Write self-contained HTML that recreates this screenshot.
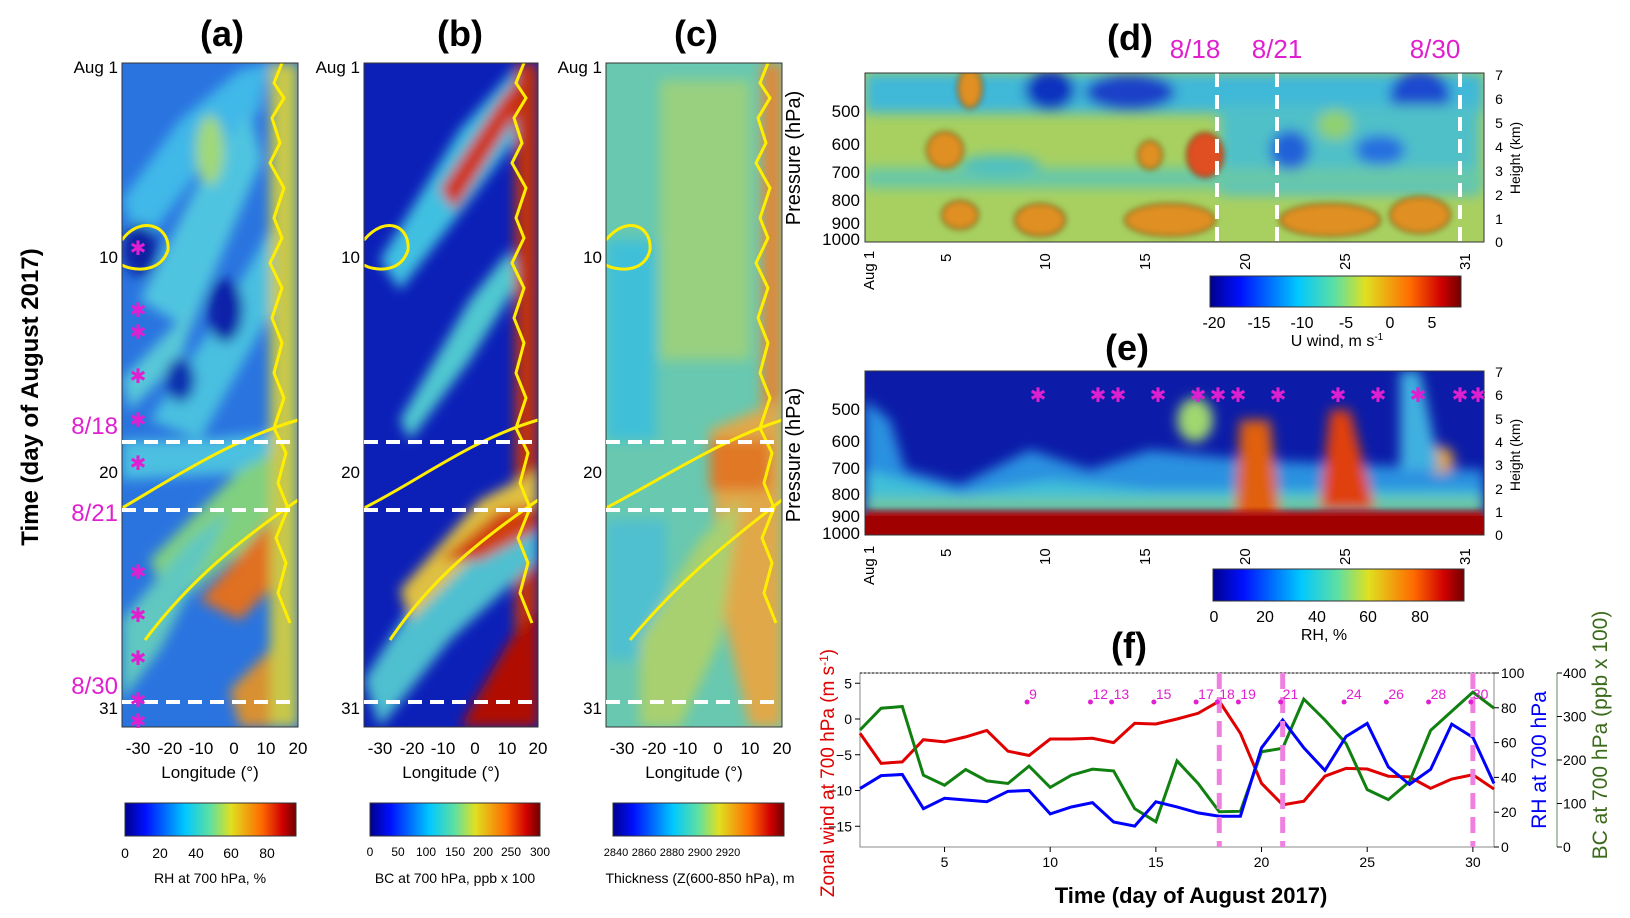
<!DOCTYPE html>
<html><head><meta charset="utf-8">
<style>
html,body{margin:0;padding:0;background:#fff;}
svg{display:block;font-family:"Liberation Sans",sans-serif;}
</style></head>
<body>
<svg id="fig" width="1630" height="918" viewBox="0 0 1630 918" xmlns="http://www.w3.org/2000/svg">
<defs>
<linearGradient id="jet" x1="0" x2="1" y1="0" y2="0">
<stop offset="0" stop-color="#00008f"/><stop offset="0.12" stop-color="#0010ff"/><stop offset="0.35" stop-color="#00c8ff"/><stop offset="0.5" stop-color="#60e0a0"/><stop offset="0.62" stop-color="#e0e020"/><stop offset="0.8" stop-color="#ff6a00"/><stop offset="0.92" stop-color="#d00000"/><stop offset="1" stop-color="#700000"/>
</linearGradient>
<filter id="bl" x="-20%" y="-20%" width="140%" height="140%"><feGaussianBlur stdDeviation="6"/></filter>
<filter id="bl2" x="-20%" y="-20%" width="140%" height="140%"><feGaussianBlur stdDeviation="3"/></filter>
<clipPath id="ca"><rect x="122" y="63" width="176" height="664"/></clipPath>
<clipPath id="cb"><rect x="364" y="63" width="174" height="664"/></clipPath>
<clipPath id="cc"><rect x="606" y="63" width="176" height="664"/></clipPath>
<clipPath id="cd"><rect x="865" y="73" width="619" height="169"/></clipPath>
<clipPath id="ce"><rect x="865" y="371" width="619" height="164"/></clipPath>
</defs>

<g font-weight="bold" font-size="36" text-anchor="middle">
<text x="222" y="46">(a)</text>
<text x="460" y="46">(b)</text>
<text x="696" y="46">(c)</text>
<text x="1130" y="50">(d)</text>
<text x="1127" y="360">(e)</text>
<text x="1129" y="658">(f)</text>
</g>

<text transform="translate(38,397) rotate(-90)" text-anchor="middle" font-size="24" font-weight="bold">Time (day of August 2017)</text>

<!-- Panel a -->
<g clip-path="url(#ca)">
<rect x="122" y="63" width="176" height="664" fill="#2a74e0"/>
<g filter="url(#bl)">
<polygon points="122,200 180,120 240,70 270,63 260,110 200,170 140,250" fill="#40b8e8"/>
<polygon points="140,300 200,180 250,110 262,160 190,330" fill="#50c4e0"/>
<polygon points="150,420 230,300 270,230 278,300 200,440" fill="#48c0e0"/>
<polygon points="122,380 170,330 200,300 180,360 130,410" fill="#58c8d8"/>
<polygon points="122,440 200,440 298,430 298,470 122,480" fill="#4cc0e0"/>
<polygon points="150,560 240,470 298,440 298,520 230,560 170,610" fill="#80d080"/>
<polygon points="200,600 270,520 298,500 298,560 240,620" fill="#e07020"/>
<polygon points="230,690 280,640 298,620 298,727 240,727" fill="#d89030"/>
<polygon points="122,620 190,540 230,510 160,650 122,700" fill="#60c8c0"/>
<rect x="270" y="63" width="28" height="664" fill="#c8c848"/>
<ellipse cx="210" cy="150" rx="14" ry="35" fill="#a0d878"/>
<ellipse cx="140" cy="250" rx="18" ry="26" fill="#0a20a0"/>
<ellipse cx="225" cy="310" rx="18" ry="32" fill="#0a24a8"/>
<ellipse cx="180" cy="380" rx="15" ry="22" fill="#1030b0"/>
</g>
<g fill="none" stroke="#ffee00" stroke-width="3">
<path d="M122,508 C170,480 230,440 298,420"/>
<path d="M145,640 C190,580 240,540 298,500"/>
<path d="M122,240 C140,215 170,225 168,250 C160,275 130,270 122,265"/>
<path d="M282,63 l-8,20 l10,15 l-12,20 l8,25 l-10,20 l14,25 l-10,30 l8,20 l-12,25 l12,25 l-10,30 l10,25 l-8,30 l10,25 l-10,30 l12,25 l-8,30 l10,25 l-12,30 l10,25 l-8,30 l12,30"/>
</g>
</g>
<rect x="122" y="63" width="176" height="664" fill="none" stroke="#333" stroke-width="1"/>

<!-- Panel b -->
<g clip-path="url(#cb)">
<rect x="364" y="63" width="174" height="664" fill="#0c20b8"/>
<g filter="url(#bl)">
<polygon points="380,260 460,130 520,63 538,63 538,110 470,200 400,290" fill="#40c0e0"/>
<polygon points="440,190 500,100 530,63 538,80 500,140 455,210" fill="#d03010"/>
<polygon points="400,420 470,300 510,250 520,280 470,360 410,440" fill="#50c8d0"/>
<rect x="515" y="63" width="23" height="664" fill="#c03010"/>
<polygon points="364,680 440,560 538,480 538,560 450,640 380,727" fill="#50c0d0"/>
<polygon points="400,590 480,500 538,470 538,510 470,560 410,620" fill="#e0c040"/>
<polygon points="460,727 510,640 538,610 538,727" fill="#b01000"/>
<polygon points="440,560 500,510 538,505 538,530 480,560" fill="#d04010"/>
</g>
<g fill="none" stroke="#ffee00" stroke-width="3">
<path d="M364,508 C420,480 470,440 538,420"/>
<path d="M390,640 C430,580 480,540 538,500"/>
<path d="M364,240 C385,215 410,225 408,250 C400,275 372,270 364,265"/>
<path d="M524,63 l-8,20 l10,15 l-12,20 l8,25 l-10,20 l14,25 l-10,30 l8,20 l-12,25 l12,25 l-10,30 l10,25 l-8,30 l10,25 l-10,30 l12,25 l-8,30 l10,25 l-12,30 l10,25 l-8,30 l12,30"/>
</g>
</g>
<rect x="364" y="63" width="174" height="664" fill="none" stroke="#333"/>

<!-- Panel c -->
<g clip-path="url(#cc)">
<rect x="606" y="63" width="176" height="664" fill="#68c8b0"/>
<g filter="url(#bl)">
<rect x="660" y="80" width="90" height="280" fill="#98d080"/>
<rect x="606" y="240" width="50" height="200" fill="#40c0d8"/>
<rect x="606" y="520" width="60" height="140" fill="#50c0d0"/>
<rect x="762" y="63" width="20" height="664" fill="#e08838"/>
<polygon points="710,430 782,400 782,727 750,727 720,600" fill="#e0a848"/>
<polygon points="640,640 700,540 740,500 720,640 680,727 640,727" fill="#a8d070"/>
<rect x="710" y="440" width="60" height="50" fill="#e07828"/>
</g>
<g fill="none" stroke="#ffee00" stroke-width="3">
<path d="M606,508 C660,480 720,440 782,420"/>
<path d="M630,640 C680,580 730,540 782,500"/>
<path d="M606,240 C626,215 652,225 650,250 C644,275 614,270 606,265"/>
<path d="M768,63 l-8,20 l10,15 l-12,20 l8,25 l-10,20 l14,25 l-10,30 l8,20 l-12,25 l12,25 l-10,30 l10,25 l-8,30 l10,25 l-10,30 l12,25 l-8,30 l10,25 l-12,30 l10,25 l-8,30 l12,30"/>
</g>
</g>
<rect x="606" y="63" width="176" height="664" fill="none" stroke="#333"/>

<g font-size="17" text-anchor="end">
<text x="118" y="73">Aug 1</text>
<text x="118" y="263">10</text>
<text x="118" y="478">20</text>
<text x="118" y="714">31</text>
<text x="360" y="73">Aug 1</text>
<text x="360" y="263">10</text>
<text x="360" y="478">20</text>
<text x="360" y="714">31</text>
<text x="602" y="73">Aug 1</text>
<text x="602" y="263">10</text>
<text x="602" y="478">20</text>
<text x="602" y="714">31</text>
</g>
<g font-size="24" fill="#e020d0" text-anchor="end">
<text x="118" y="434">8/18</text>
<text x="118" y="521">8/21</text>
<text x="118" y="694">8/30</text>
</g>
<g stroke="#fff" stroke-width="4" stroke-dasharray="14,8">
<line x1="122" x2="298" y1="442" y2="442"/><line x1="122" x2="298" y1="510" y2="510"/><line x1="122" x2="298" y1="702" y2="702"/>
<line x1="364" x2="538" y1="442" y2="442"/><line x1="364" x2="538" y1="510" y2="510"/><line x1="364" x2="538" y1="702" y2="702"/>
<line x1="606" x2="782" y1="442" y2="442"/><line x1="606" x2="782" y1="510" y2="510"/><line x1="606" x2="782" y1="702" y2="702"/>
</g>
<g fill="#e020d0" font-size="20" text-anchor="middle">
<text x="138" y="255">✱</text><text x="138" y="317">✱</text><text x="138" y="339">✱</text><text x="138" y="383">✱</text><text x="138" y="427">✱</text><text x="138" y="470">✱</text><text x="138" y="579">✱</text><text x="138" y="622">✱</text><text x="138" y="665">✱</text><text x="138" y="707">✱</text><text x="138" y="728">✱</text>
</g>

<g font-size="17" text-anchor="middle">
<text x="138" y="754">-30</text><text x="170" y="754">-20</text><text x="201" y="754">-10</text><text x="234" y="754">0</text><text x="266" y="754">10</text><text x="298" y="754">20</text>
<text x="380" y="754">-30</text><text x="412" y="754">-20</text><text x="443" y="754">-10</text><text x="475" y="754">0</text><text x="507" y="754">10</text><text x="538" y="754">20</text>
<text x="622" y="754">-30</text><text x="654" y="754">-20</text><text x="685" y="754">-10</text><text x="718" y="754">0</text><text x="750" y="754">10</text><text x="782" y="754">20</text>
</g>
<g font-size="17" text-anchor="middle">
<text x="210" y="778">Longitude (°)</text>
<text x="451" y="778">Longitude (°)</text>
<text x="694" y="778">Longitude (°)</text>
</g>
<rect x="125" y="803" width="171" height="33" fill="url(#jet)" stroke="#333"/>
<rect x="370" y="803" width="170" height="33" fill="url(#jet)" stroke="#333"/>
<rect x="613" y="803" width="171" height="33" fill="url(#jet)" stroke="#333"/>
<g font-size="14" text-anchor="middle">
<text x="125" y="858">0</text><text x="160" y="858">20</text><text x="196" y="858">40</text><text x="231" y="858">60</text><text x="267" y="858">80</text>
<text x="370" y="856" font-size="12">0</text><text x="398" y="856" font-size="12">50</text><text x="426" y="856" font-size="12">100</text><text x="455" y="856" font-size="12">150</text><text x="483" y="856" font-size="12">200</text><text x="511" y="856" font-size="12">250</text><text x="540" y="856" font-size="12">300</text>
<text x="616" y="856" font-size="11">2840</text><text x="644" y="856" font-size="11">2860</text><text x="672" y="856" font-size="11">2880</text><text x="700" y="856" font-size="11">2900</text><text x="728" y="856" font-size="11">2920</text>
<text x="210" y="883">RH at 700 hPa, %</text>
<text x="455" y="883">BC at 700 hPa,  ppb x 100</text>
<text x="700" y="883">Thickness (Z(600-850 hPa), m</text>
</g>

<!-- Panel d -->
<g font-size="26" fill="#e020d0" text-anchor="middle">
<text x="1195" y="58">8/18</text>
<text x="1277" y="58">8/21</text>
<text x="1435" y="58">8/30</text>
</g>
<g clip-path="url(#cd)">
<rect x="865" y="73" width="619" height="169" fill="#a8d060"/>
<g filter="url(#bl)">
<rect x="865" y="73" width="619" height="40" fill="#40b8d8"/>
<ellipse cx="1050" cy="90" rx="25" ry="20" fill="#1030c0"/>
<ellipse cx="1130" cy="92" rx="45" ry="18" fill="#1a40c8"/>
<ellipse cx="1420" cy="95" rx="30" ry="25" fill="#1a4ad0"/>
<rect x="1220" y="105" width="260" height="90" fill="#50c0c8"/>
<rect x="865" y="168" width="619" height="20" fill="#68c8a8"/>
<ellipse cx="1000" cy="165" rx="40" ry="10" fill="#50c0c0"/>
<ellipse cx="1290" cy="150" rx="20" ry="20" fill="#2060d8"/>
<ellipse cx="1380" cy="150" rx="25" ry="15" fill="#2870e0"/>
<ellipse cx="1335" cy="125" rx="18" ry="15" fill="#90d070"/>
</g>
<g fill="#e09020" stroke="#000" stroke-width="1.5" filter="url(#bl2)">
<ellipse cx="970" cy="88" rx="12" ry="20"/>
<ellipse cx="945" cy="150" rx="18" ry="18"/>
<ellipse cx="1150" cy="155" rx="12" ry="14"/>
<ellipse cx="1205" cy="155" rx="18" ry="22" fill="#e05020"/>
<ellipse cx="960" cy="215" rx="18" ry="14"/><ellipse cx="1040" cy="220" rx="25" ry="16"/>
<ellipse cx="1170" cy="220" rx="45" ry="16"/><ellipse cx="1330" cy="220" rx="50" ry="16"/><ellipse cx="1420" cy="215" rx="30" ry="18"/>
</g>
</g>
<g stroke="#fff" stroke-width="4" stroke-dasharray="14,8">
<line x1="1217" x2="1217" y1="73" y2="242"/><line x1="1277" x2="1277" y1="73" y2="242"/><line x1="1460" x2="1460" y1="73" y2="242"/>
<line x1="1217" x2="1217" y1="371" y2="535"/><line x1="1277" x2="1277" y1="371" y2="535"/><line x1="1460" x2="1460" y1="371" y2="535"/>
</g>
<rect x="865" y="73" width="619" height="169" fill="none" stroke="#333"/>

<!-- Panel e -->
<g clip-path="url(#ce)">
<rect x="865" y="371" width="619" height="164" fill="#0c1ca8"/>
<g filter="url(#bl)">
<polygon points="865,400 890,420 905,470 960,485 1030,450 1090,470 1150,450 1250,460 1484,470 1484,515 865,515" fill="#2a90e0"/>
<polygon points="865,470 960,495 1050,480 1150,490 1484,490 1484,515 865,515" fill="#40c0d8"/>
<rect x="865" y="498" width="619" height="17" fill="#70c8a0"/>
<polygon points="1240,420 1270,420 1280,520 1235,520" fill="#e06010"/>
<polygon points="1330,410 1350,410 1375,510 1320,510" fill="#e04010"/>
<ellipse cx="1195" cy="420" rx="18" ry="22" fill="#a0d870"/>
<ellipse cx="1440" cy="460" rx="14" ry="14" fill="#e0a030"/>
<polygon points="1400,371 1420,371 1440,470 1400,470" fill="#40b0e0"/>
</g>
<rect x="865" y="511" width="619" height="24" fill="#b01010" filter="url(#bl2)"/>
<rect x="865" y="516" width="619" height="19" fill="#a00000"/>
</g>
<g fill="#e020d0" font-size="20" text-anchor="middle">
<text x="1038" y="402">✱</text><text x="1098" y="402">✱</text><text x="1118" y="402">✱</text><text x="1158" y="402">✱</text><text x="1198" y="402">✱</text><text x="1218" y="402">✱</text><text x="1238" y="402">✱</text><text x="1278" y="402">✱</text><text x="1338" y="402">✱</text><text x="1378" y="402">✱</text><text x="1418" y="402">✱</text><text x="1460" y="402">✱</text><text x="1478" y="402">✱</text>
</g>
<rect x="865" y="371" width="619" height="164" fill="none" stroke="#333"/>

<g font-size="17" text-anchor="end">
<text x="860" y="117">500</text><text x="860" y="150">600</text><text x="860" y="178">700</text><text x="860" y="206">800</text><text x="860" y="229">900</text><text x="860" y="245">1000</text>
<text x="860" y="415">500</text><text x="860" y="447">600</text><text x="860" y="474">700</text><text x="860" y="500">800</text><text x="860" y="522">900</text><text x="860" y="539">1000</text>
</g>
<text transform="translate(800,158) rotate(-90)" text-anchor="middle" font-size="20">Pressure (hPa)</text>
<text transform="translate(800,455) rotate(-90)" text-anchor="middle" font-size="20">Pressure (hPa)</text>
<g font-size="14" text-anchor="middle">
<text x="1499" y="247">0</text><text x="1499" y="224">1</text><text x="1499" y="200">2</text><text x="1499" y="176">3</text><text x="1499" y="152">4</text><text x="1499" y="128">5</text><text x="1499" y="104">6</text><text x="1499" y="80">7</text>
<text x="1499" y="540">0</text><text x="1499" y="517">1</text><text x="1499" y="494">2</text><text x="1499" y="470">3</text><text x="1499" y="447">4</text><text x="1499" y="424">5</text><text x="1499" y="400">6</text><text x="1499" y="377">7</text>
</g>
<text transform="translate(1520,158) rotate(-90)" text-anchor="middle" font-size="14">Height (km)</text>
<text transform="translate(1520,455) rotate(-90)" text-anchor="middle" font-size="14">Height (km)</text>
<g font-size="15">
<text transform="translate(874,290) rotate(-90)">Aug 1</text><text transform="translate(951,262) rotate(-90)">5</text><text transform="translate(1050,270) rotate(-90)">10</text><text transform="translate(1150,270) rotate(-90)">15</text><text transform="translate(1250,270) rotate(-90)">20</text><text transform="translate(1350,270) rotate(-90)">25</text><text transform="translate(1470,270) rotate(-90)">31</text>
<text transform="translate(874,585) rotate(-90)">Aug 1</text><text transform="translate(951,557) rotate(-90)">5</text><text transform="translate(1050,565) rotate(-90)">10</text><text transform="translate(1150,565) rotate(-90)">15</text><text transform="translate(1250,565) rotate(-90)">20</text><text transform="translate(1350,565) rotate(-90)">25</text><text transform="translate(1470,565) rotate(-90)">31</text>
</g>
<rect x="1210" y="276" width="251" height="31" fill="url(#jet)" stroke="#333"/>
<g font-size="16" text-anchor="middle"><text x="1214" y="328">-20</text><text x="1259" y="328">-15</text><text x="1302" y="328">-10</text><text x="1346" y="328">-5</text><text x="1390" y="328">0</text><text x="1432" y="328">5</text>
<text x="1337" y="346">U wind, m s<tspan font-size="10" dy="-6">-1</tspan></text></g>
<rect x="1213" y="569" width="251" height="32" fill="url(#jet)" stroke="#333"/>
<g font-size="16" text-anchor="middle"><text x="1214" y="622">0</text><text x="1265" y="622">20</text><text x="1317" y="622">40</text><text x="1368" y="622">60</text><text x="1420" y="622">80</text>
<text x="1324" y="640">RH, %</text></g>

<g id="panelF"></g>
</svg>
<script>
const days = [1,2,3,4,5,6,7,8,9,10,11,12,13,14,15,16,17,18,19,20,21,22,23,24,25,26,27,28,29,30,31];
const zonalWind = [-2,-6.2,-6,-2.9,-3.2,-2.5,-1.6,-4.5,-5.1,-2.8,-2.8,-2.7,-3.3,-0.6,-0.7,0,0.8,2.5,-2,-9,-12,-11.5,-8,-6.9,-7,-8,-8.1,-9.7,-8.4,-7.8,-9.8];
const rhValues = [33.6,41,41.7,22,28,27,26,32,32.5,19,23,25.5,14.4,12,26,23,19.6,17.7,17.7,57,73,57,44,63.5,71,46,36,44.6,70.6,63,36.5];
const bcValues = [269,319,323,165,142,178,152,146,186,137,165,179,175,88,58,198,146,81,82,219,227,340,292,238,132,109,150,268,312,356,319];
const markerDays = [9,12,13,15,17,18,19,21,24,26,28,30];
const eventDays = [18,21,30];
const xTicks = [5,10,15,20,25,30];
const windTicks = [5,0,-5,-10,-15];
const rhTicks = [0,20,40,60,80,100];
const bcTicks = [0,100,200,300,400];

const NS = 'http://www.w3.org/2000/svg';
const g = document.getElementById('panelF');
const L=860, R=1494, T=673, B=847;
const x = d => L + (d-1)*(R-L)/30;
const yW = v => 719 - v*7.15;
const yRH = v => B - v*(B-T)/100;
const yBC = v => B - v*(B-T)/400;
function mk(tag, attrs, parent){const e=document.createElementNS(NS,tag);for(const k in attrs)e.setAttribute(k,attrs[k]);(parent||g).appendChild(e);return e;}

const frame = mk('rect',{x:L,y:T,width:R-L,height:B-T,fill:'none',stroke:'#888','stroke-width':1});


mk('line',{x1:L,x2:R,y1:T,y2:T,stroke:'#000','stroke-dasharray':'2,2'});

xTicks.forEach(d=>{
  mk('line',{x1:x(d),x2:x(d),y1:B,y2:B+5,stroke:'#000'});
  const t=mk('text',{x:x(d),y:B+20,'font-size':14,'text-anchor':'middle'});t.textContent=d;
  
  
});
windTicks.forEach(v=>{
  mk('line',{x1:L-5,x2:L,y1:yW(v),y2:yW(v),stroke:'#000'});
  const t=mk('text',{x:L-8,y:yW(v)+5,'font-size':14,'text-anchor':'end'});t.textContent=(v<0?'\u2212'+(-v):v);
  
  
});
rhTicks.forEach(v=>{
  mk('line',{x1:R,x2:R+5,y1:yRH(v),y2:yRH(v),stroke:'#000'});
  const t=mk('text',{x:R+7,y:yRH(v)+5,'font-size':14});t.textContent=v;
  
  
});
mk('line',{x1:1557,x2:1557,y1:T,y2:B,stroke:'#6a8a6a'});
bcTicks.forEach(v=>{
  mk('line',{x1:1557,x2:1562,y1:yBC(v),y2:yBC(v),stroke:'#000'});
  const t=mk('text',{x:1563,y:yBC(v)+5,'font-size':14});t.textContent=v;
  
  
});

function line(vals, fy, color, name){
  const p=mk('polyline',{points:vals.map((v,i)=>x(days[i])+','+fy(v)).join(' '),fill:'none',stroke:color,'stroke-width':3});
  
  
}
line(zonalWind,yW,'#e00000','zonal-wind-line');
line(bcValues,yBC,'#108010','bc-line');
line(rhValues,yRH,'#0000ff','rh-line');

eventDays.forEach(d=>{
  const l=mk('line',{x1:x(d),x2:x(d),y1:T,y2:B,stroke:'#f080e0','stroke-width':5,'stroke-dasharray':'16,8'});
  
  
});
markerDays.forEach(d=>{
  mk('circle',{cx:x(d)-2,cy:702,r:2.5,fill:'#e020d0'});
  const t=mk('text',{x:x(d),y:699,'font-size':14,fill:'#e020d0'});t.textContent=d;
  
  
});

const t1=mk('text',{transform:'translate(834,773) rotate(-90)','text-anchor':'middle','font-size':19,fill:'#e00000'});
t1.innerHTML='Zonal wind at 700 hPa (m s<tspan font-size="12" dy="-6">-1</tspan><tspan dy="6">)</tspan>';


const t2=mk('text',{transform:'translate(1546,760) rotate(-90)','text-anchor':'middle','font-size':21,fill:'#0000ff'});t2.textContent='RH at 700 hPa';


const t3=mk('text',{transform:'translate(1607,735) rotate(-90)','text-anchor':'middle','font-size':21,fill:'#3a6a1a'});t3.textContent='BC at 700 hPa (ppb x 100)';


const t4=mk('text',{x:1191,y:903,'text-anchor':'middle','font-size':22,'font-weight':'bold'});t4.textContent='Time (day of August 2017)';


</script>
</body></html>
